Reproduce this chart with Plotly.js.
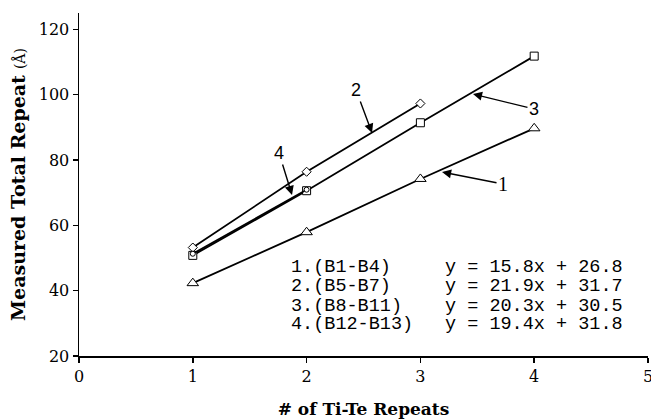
<!DOCTYPE html>
<html>
<head>
<meta charset="utf-8">
<script src="https://cdn.plot.ly/plotly-3.0.1.min.js"></script>
<style>html,body{margin:0;padding:0;background:#fff;}#chart{width:651px;height:419px;}</style>
</head>
<body>
<div id="chart"></div>
<script>
// ---- data ----
const repeats1 = [1, 2, 3, 4];
const total1 = [42.3, 57.9, 74.2, 89.7];     // 1. (B1-B4)  triangles
const repeats2 = [1, 2, 3];
const total2 = [53.2, 76.4, 97.3];           // 2. (B5-B7)  diamonds
const repeats3 = [1, 2, 3, 4];
const total3 = [50.8, 70.6, 91.4, 111.8];    // 3. (B8-B11) squares
const repeats4 = [1, 2];
const total4 = [51.3, 70.9];                 // 4. (B12-B13) circles

const seriesLabels = ["1.(B1-B4)", "2.(B5-B7)", "3.(B8-B11)", "4.(B12-B13)"];
const equations = ["y = 15.8x + 26.8", "y = 21.9x + 31.7", "y = 20.3x + 30.5", "y = 19.4x + 31.8"];
const xTicks = [0, 1, 2, 3, 4, 5];
const yTicks = [20, 40, 60, 80, 100, 120];

const lineStyle = {color: '#000', width: 1.8};
function mk(sym, size) {
  return {symbol: sym, size: size, color: '#fff', line: {color: '#000', width: 1}};
}
const traces = [
  {x: repeats1, y: total1, mode: 'lines+markers', line: lineStyle, marker: mk('triangle-up', 10), cliponaxis: false},
  {x: repeats2, y: total2, mode: 'lines+markers', line: lineStyle, marker: mk('diamond', 7), cliponaxis: false},
  {x: repeats3, y: total3, mode: 'lines+markers', line: lineStyle, marker: mk('square', 8), cliponaxis: false},
  {x: repeats4, y: total4, mode: 'lines+markers', line: lineStyle, marker: mk('circle', 5), cliponaxis: false}
];

const annotations = [];
// arrows with numbers
const arrowDefs = [
  {text: '2', x: 2.575, y: 88.3, ax: -16, ay: -43, font: 'Liberation Sans', size: 18},
  {text: '4', x: 1.872, y: 69.3, ax: -13, ay: -42, font: 'Liberation Sans', size: 18},
  {text: '3', x: 3.462, y: 100.2, ax: 61, ay: 15, font: 'Liberation Sans', size: 18},
  {text: '1', x: 3.19, y: 76.3, ax: 61, ay: 12, font: 'Liberation Serif', size: 20}
];
arrowDefs.forEach(a => annotations.push({
  x: a.x, y: a.y, xref: 'x', yref: 'y', ax: a.ax, ay: a.ay, text: a.text,
  showarrow: true, arrowhead: 2, arrowsize: 1.3, arrowwidth: 1.4, arrowcolor: '#000',
  font: {family: a.font, size: a.size, color: '#000'}, borderpad: 1
}));
// equation block
const rowY = [47.2, 41.4, 35.3, 29.5];
seriesLabels.forEach((s, i) => {
  annotations.push({x: 1.85, y: rowY[i], xref: 'x', yref: 'y', xanchor: 'left', yanchor: 'middle',
    height: 17, borderpad: 0, valign: 'middle',
    text: s, showarrow: false, font: {family: 'Liberation Mono', size: 18.5, color: '#000'}});
  annotations.push({x: 3.21, y: rowY[i], xref: 'x', yref: 'y', xanchor: 'left', yanchor: 'middle',
    height: 17, borderpad: 0, valign: 'middle',
    text: equations[i], showarrow: false, font: {family: 'Liberation Mono', size: 18.5, color: '#000'}});
});

const layout = {
  width: 651, height: 419,
  margin: {l: 79, r: 3, t: 13, b: 63},
  paper_bgcolor: '#fff', plot_bgcolor: '#fff',
  showlegend: false,
  font: {family: 'DejaVu Serif', color: '#000'},
  xaxis: {
    range: [0, 5], tickvals: xTicks, ticktext: xTicks.map(String),
    showgrid: false, zeroline: false, showline: true, linecolor: '#000', linewidth: 1.5,
    ticks: 'outside', ticklen: 5, tickwidth: 1.5, tickcolor: '#000',
    ticklabeloverflow: 'allow',
    tickfont: {family: 'DejaVu Serif', size: 16, color: '#000'},
    title: {text: '<b># of Ti-Te Repeats</b>', font: {family: 'DejaVu Serif', size: 17, color: '#000'}, standoff: 18}
  },
  yaxis: {
    range: [20, 125], tickvals: yTicks, ticktext: yTicks.map(String),
    showgrid: false, zeroline: false, showline: true, linecolor: '#000', linewidth: 1.5,
    ticks: 'outside', ticklen: 5, tickwidth: 1.5, tickcolor: '#000',
    tickfont: {family: 'DejaVu Serif', size: 16, color: '#000'},
    title: {text: '<b>Measured Total Repeat</b> <span style="font-size:14px">(Å)</span>', font: {family: 'DejaVu Serif', size: 19, color: '#000'}, standoff: 8}
  },
  annotations: annotations
};

Plotly.newPlot('chart', traces, layout, {staticPlot: true, displayModeBar: false});
</script>
</body>
</html>
